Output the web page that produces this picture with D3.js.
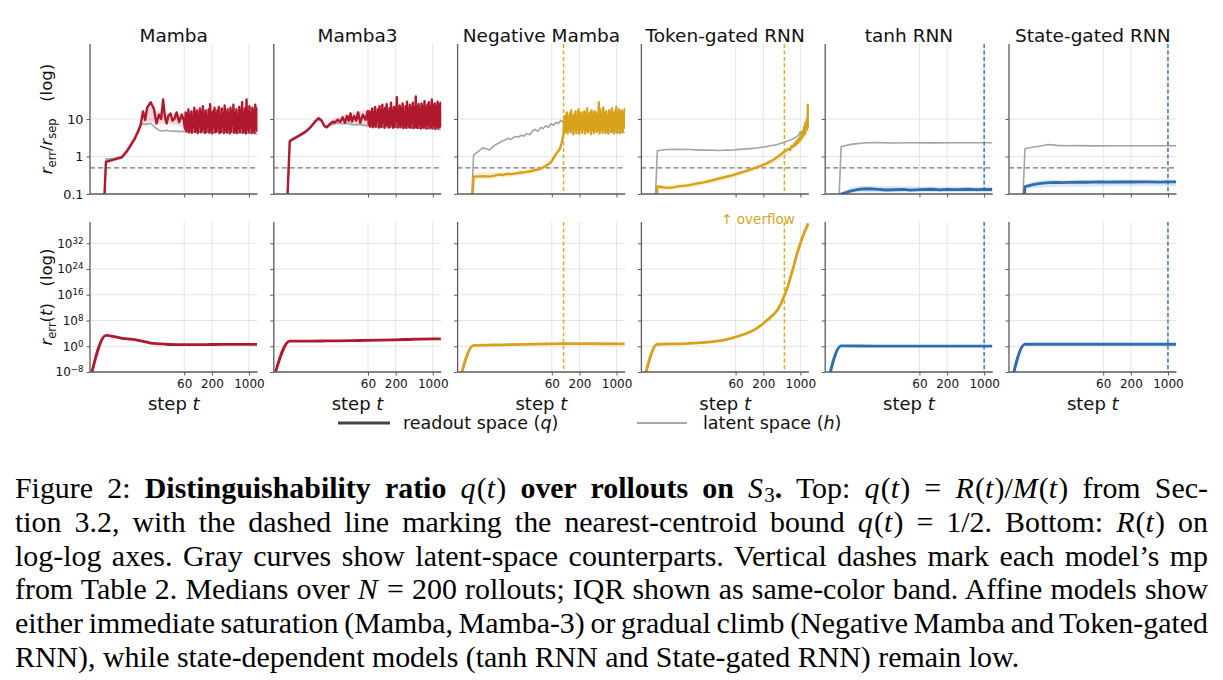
<!DOCTYPE html>
<html>
<head>
<meta charset="utf-8">
<style>
  body { margin: 0; background: #fff; }
  #wrap { position: relative; width: 1223px; height: 680px; overflow: hidden; background: #fff; }
  svg { position: absolute; left: 0; top: 0; }
  svg text { font-family: "DejaVu Sans", sans-serif; fill: #111; }
  .cap { position: absolute; left: 15px; font-family: "Liberation Serif", "Times New Roman", serif;
         font-size: 29.9px; line-height: 33.8px; white-space: nowrap; color: #000; }
  .cap .s { font-size: 70%; position: relative; top: 0.2em; line-height: 0; }
  .cap i { letter-spacing: 0.04em; }
</style>
<script src="https://cdn.jsdelivr.net/npm/d3@7"></script>
</head>
<body>
<div id="wrap"><svg width="1223" height="680"></svg></div>
<script>
// ---- data ----
const models = ["Mamba", "Mamba3", "Negative Mamba", "Token-gated RNN", "tanh RNN", "State-gated RNN"];
const modelColors = ["#b0182d", "#b0182d", "#d8a11c", "#d8a11c", "#2f6db3", "#2f6db3"];
const mpSteps = [null, null, 100, 500, 1000, 1000];   // vertical dashes

const stepTicks = [60, 200, 1000];
const ratioTicks = [0.1, 1, 10];
const errTicks = [1e-8, 1e0, 1e8, 1e16, 1e24, 1e32];
const boundQ = 0.5;

// steps used for the noisy tails
const denseSteps = [62,64,66,68,70,72,74,77,79,82, 84,87,90,93,96,99,102,105,108,112,
  115,119,123,127,131,135,139,144,148,153, 158,163,168,174,179,185,191,197,203,210,
  217,224,231,238,246,254,262,270,279,288, 297,307,317,327,337,348,359,371,383,395,
  408,421,434,448,463,478,493,509,525,542, 560,578,596,615,635,656,677,699,721,744,
  768,793,818,845,872,900,929,959,990,1022, 1055,1089,1124,1160,1197,1236,1276,1317,1360,1404, 1440];

// Mamba
const mambaEarly = [[1,1e-10],[2,0.72],[3,0.85],[4,0.95],[5,1.4],[6,2.1],[7,3.0],[8,4.5],[9,6.8],[10,16],
  [11,9.5],[12,20],[14,28],[16,19],[18,7.6],[20,13],[22,10],[24,33],[26,11],[28,7.6],[30,12],[33,14],
  [36,9],[39,10],[43,15],[48,8.3],[54,13],[59,9]];
const mambaNoise = [5.5,15,4.6,12,7,18,4.4,13,5,16, 4.3,11,6,20,4.5,14,5.2,17,4.2,12,
  8,19,4.4,15,4.8,22,5.5,13,4.2,17, 4.6,12,7,18,4.3,25,5,14,4.1,16, 6,20,4.4,13,4.7,17,5.8,21,4.2,12,
  4.5,19,6.5,14,4.2,23,5,15,4.3,18, 5.5,13,4.1,20,4.6,16,7,24,4.3,14, 4.8,18,4.2,12,5.5,21,4.4,17,6,28,
  4.3,15,4.7,19,4.1,33,5.2,16,4.4,22, 6,14,4.2,20,4.8,17,4.3,24,5.5,19, 4.5];
const mambaBand = [[2,0.65,0.8],[3,0.76,0.95],[4,0.85,1.12],[5,1.15,1.7],[6,1.7,2.7],[7,2.4,3.9],[8,3.6,5.8],
  [9,5.4,8.5],[10,7.5,14],[12,8,19],[14,8.5,22],[16,8,19],[20,7.5,16],[25,7.5,15],[30,7.5,14],[40,7,14],
  [60,6,15],[100,5,17],[300,4.5,19],[1000,4.3,21],[1420,4.2,21]];
const mambaLatent = [[1,1e-10],[2,0.85],[3,0.9],[4,1.0],[5,1.45],[6,2.2],[7,3.1],[8,4.7],[9,6.6],[10,7.6],
  [11,7.1],[12,7.3],[14,7.7],[16,6.3],[18,5.6],[20,5.0],[24,4.8],[28,5.0],[34,4.7],[40,4.8],[50,4.6],
  [60,4.7],[80,4.5],[100,4.6],[150,4.4],[200,4.5],[300,4.4],[400,4.5],[600,4.3],[800,4.4],[1000,4.2],
  [1200,4.1],[1420,4.0]];
const mambaErr = [[1,3e-11],[2,2.5e3],[3,800],[4,300],[5,200],[7,120],[10,35],[14,10],[20,5.6],[30,3.5],
  [45,3.2],[60,3.2],[100,3.2],[200,3.5],[500,4],[1000,4],[1420,4]];

// Mamba3
const mamba3Early = [[1,1e-10],[2,2.6],[3,3.6],[4,4.6],[5,6.2],[6,8.5],[7,10.5],[8,9],[9,6.5],[10,6],
  [11,7],[12,7.8],[13,8.5],[14,8],[16,9.5],[18,8.5],[20,11],[22,8],[24,12],[26,9],[28,14],[30,8.5],
  [33,12],[36,9],[39,15],[43,8],[48,13],[54,9.5],[59,16]];
const mamba3Noise = [7,16,6.2,13,8,19,6,15,7,21, 6.1,14,9,18,5.9,22,6.5,16,6,24,
  8,17,5.8,20,6.6,25,7,15,5.9,19, 6.3,27,7.5,16,5.8,21,6.2,18,9,38, 5.9,17,6.8,23,6,19,7.2,26,5.7,15,
  6.5,22,5.8,29,7,18,6.1,24,5.9,20, 8,27,5.7,19,6.4,40,6,21,5.8,25, 7,18,5.6,26,6.3,22,5.9,30,6.6,19,
  5.6,24,7,28,5.8,20,6.2,33,5.7,23, 6.8,26,5.5,21,6.4,29,5.8,24,6.1,27, 6];
const mamba3Band = [[2,2.3,2.9],[3,3.2,4.0],[4,4.0,5.2],[5,5.4,7.0],[6,7.3,9.5],[7,9,11.8],[8,8,10.5],
  [9,5.8,7.5],[10,5.4,7],[12,6.5,9],[15,7,11],[20,7,13],[30,6.8,15],[60,6.3,18],[100,6,20],[300,5.8,22],
  [1000,5.6,24],[1420,5.5,24]];
const mamba3Latent = [[1,1e-10],[2,2.5],[3,3.5],[4,4.5],[5,6],[6,8.2],[7,10],[8,9],[9,6.5],[10,6],[12,7],
  [14,7.5],[16,8],[20,7.5],[25,7.8],[30,7],[40,7.2],[60,6.5],[100,6.2],[200,6],[400,5.8],[700,5.6],
  [1000,5.4],[1420,5.2]];
const mamba3Err = [[1,1.6e-10],[2,40],[5,40],[10,45],[30,56],[100,80],[300,125],[1000,200],[1420,200]];

// Negative Mamba
const negEarly = [[1,1e-10],[2,0.29],[3,0.3],[4,0.29],[5,0.31],[6,0.33],[7,0.32],[8,0.34],[10,0.34],
  [12,0.35],[15,0.37],[20,0.39],[25,0.41],[30,0.44],[35,0.46],[40,0.5],[45,0.55],[50,0.6],[55,0.66],
  [60,0.75],[65,0.92],[70,1.1],[75,1.25],[80,1.4],[85,1.6],[90,2.0],[95,2.8],[100,4.2]];
const negNoise = [9,4.3,12,5,15,4.1,11,6,14,4.4, 17,5,12,3.9,13,6.5,16,4.2,11,5.2,
  18,4,13,5.5,15,4.3,12,7,16,4.1, 14,5,19,4.4,12,6,15,3.9,17,5.5, 13,4.2,16,6,15,4.5,12,5,28,4.1,
  18,5.5,13,4.3,20,6,14,4.2,16,5, 12,4,17,6.5,15,4.4,19,5,13,4.1, 16,5.5,21,4.3,14,6,18,4.2,15,5.2,
  17,4.5,14,5.8,20];
const negBand = [[2,0.24,0.36],[3,0.25,0.4],[4,0.24,0.39],[5,0.26,0.38],[6,0.27,0.38],[8,0.28,0.39],
  [10,0.29,0.4],[15,0.31,0.43],[20,0.33,0.46],[30,0.37,0.52],[40,0.42,0.58],[50,0.5,0.7],[60,0.63,0.9],
  [70,0.9,1.3],[80,1.2,1.7],[90,1.7,2.4],[100,3.5,5]];
const negLatent = [[1,1e-10],[2,1.08],[3,1.7],[4,1.5],[5,2.0],[6,2.3],[7,2.6],[8,2.8],[9,3.1],[10,2.8],
  [12,3.4],[14,3.3],[16,3.7],[18,3.5],[20,4.1],[23,3.8],[26,4.8],[29,5.3],[33,4.7],[37,6.0],[41,5.5],
  [46,6.6],[52,6.0],[58,7.5],[65,6.8],[72,8.2],[80,7.5],[88,9.2],[95,8.4],[100,9],[120,6],[150,5],
  [200,5.5],[300,5],[500,5],[800,4.8],[1100,4.5],[1420,4.3]];
const negErr = [[1,4e-14],[2,2],[5,2.5],[10,3.2],[30,4.5],[100,6.3],[300,6.3],[1000,5.6],[1420,5.6]];

// Token-gated RNN
const tokenQ = [[1,1e-10],[2,0.158],[3,0.146],[4,0.15],[5,0.16],[6,0.165],[8,0.172],[11,0.19],[15,0.205],
  [23,0.236],[30,0.26],[48,0.306],[70,0.36],[100,0.42],[150,0.51],[207,0.61],[280,0.75],[370,0.97],
  [450,1.2],[520,1.4],[600,1.6],[640,1.5],[680,1.9],[720,1.8],[770,2.2],[810,2.0],[850,2.6],[890,2.3],
  [930,3.0],[970,2.6],[1010,3.6],[1050,3.0],[1090,4.5],[1130,3.5],[1170,6],[1210,4],[1250,8],[1290,5],
  [1330,10],[1360,6],[1385,24],[1400,8],[1410,13],[1420,6]];
const tokenBand = [[2,0.13,0.18],[3,0.125,0.17],[5,0.135,0.185],[8,0.145,0.2],[12,0.16,0.22],[20,0.19,0.26],
  [30,0.215,0.3],[50,0.25,0.36],[100,0.35,0.48],[200,0.5,0.7],[300,0.62,0.9],[500,0.95,1.35],[700,1.4,1.9],
  [1000,2.2,3.1],[1200,3,5],[1420,4,8]];
const tokenLatent = [[1,1e-10],[2,1.42],[3,1.53],[5,1.56],[8,1.53],[11,1.5],[16,1.48],[23,1.47],[30,1.45],
  [40,1.49],[50,1.47],[70,1.55],[100,1.6],[150,1.68],[207,1.8],[280,1.93],[370,2.1],[450,2.3],[575,2.6],
  [680,2.85],[770,3.1],[850,3.4],[930,3.7],[1000,4.6],[1050,3.9],[1100,4.8],[1150,4.3],[1200,5.4],
  [1250,4.6],[1300,6.0],[1350,5.2],[1420,6.5]];
const tokenErr = [[1,6e-15],[2,4.2],[7,6.9],[20,22],[35,80],[55,500],[90,6.3e3],[132,1e5],[180,3.2e6],
  [236,1.3e8],[300,4e9],[365,1.6e11],[430,1.6e13],[490,2.5e15],[570,1.6e18],[656,4e21],[760,1.6e25],
  [873,8e28],[1000,1e32],[1170,1.3e35],[1300,6e36],[1420,1.6e38]];

// tanh RNN
const tanhQ = [[1,1e-10],[2,0.1],[3,0.12],[4,0.13],[5,0.136],[6,0.138],[8,0.136],[10,0.133],[14,0.128],
  [20,0.13],[30,0.133],[40,0.127],[60,0.131],[100,0.134],[150,0.129],[200,0.133],[300,0.131],[500,0.134],
  [700,0.13],[1000,0.133],[1420,0.132]];
const tanhBand = [[2,0.1,0.11],[3,0.108,0.15],[5,0.11,0.165],[10,0.11,0.16],[30,0.11,0.16],[100,0.112,0.158],
  [300,0.112,0.157],[1000,0.112,0.157],[1420,0.112,0.157]];
const tanhLatent = [[1,1e-10],[2,1.85],[3,2.1],[4,2.2],[6,2.32],[10,2.34],[20,2.3],[40,2.32],[100,2.31],
  [300,2.32],[1000,2.33],[1420,2.32]];
const tanhErr = [[1,1.3e-15],[2,1.26],[10,1.12],[100,1.12],[1000,1.12],[1420,1.12]];

// State-gated RNN
const stateQ = [[1,1e-10],[2,0.158],[3,0.18],[4,0.193],[5,0.197],[6,0.2],[8,0.203],[10,0.2],[14,0.205],
  [20,0.208],[30,0.206],[50,0.21],[80,0.207],[100,0.211],[200,0.209],[400,0.21],[700,0.208],[1000,0.211],
  [1420,0.21]];
const stateBand = [[2,0.14,0.175],[3,0.145,0.22],[5,0.15,0.235],[10,0.155,0.24],[30,0.158,0.24],
  [100,0.16,0.245],[300,0.16,0.245],[1000,0.16,0.245],[1420,0.16,0.245]];
const stateLatent = [[1,1e-10],[2,1.61],[3,1.79],[4,1.9],[5.5,2.09],[8,1.98],[12,1.93],[20,1.95],[40,1.92],
  [100,1.93],[300,1.94],[1000,1.93],[1420,1.93]];
const stateErr = [[1,1.6e-15],[2,4.2],[10,4.2],[100,4.2],[1000,4.2],[1420,4.2]];

// ---- tables built from the arrays ----
const zip = (steps, vals) => vals.map((v, k) => [steps[k], v]);
const ratioReadout = [
  mambaEarly.concat(zip(denseSteps, mambaNoise)),
  mamba3Early.concat(zip(denseSteps, mamba3Noise)),
  negEarly.concat(zip(denseSteps.slice(16), negNoise)),
  tokenQ, tanhQ, stateQ];
const ratioBand = [mambaBand, mamba3Band, negBand, tokenBand, tanhBand, stateBand];
const ratioLatent = [mambaLatent, mamba3Latent, negLatent, tokenLatent, tanhLatent, stateLatent];
const errReadout = [mambaErr, mamba3Err, negErr, tokenErr, tanhErr, stateErr];

// ---- layout ----
const svg = d3.select("svg");
const W = 167.5, H = 150;
const panelLeft = models.map((m, i) => 90 + i * 183.8);
const rowTop = [44, 222];

const x = d3.scaleLog().domain([1, 1450]).range([0, W]);
const yRatio = d3.scaleLog().domain([0.1, 1000]).range([H, 0]);
const yErr = d3.scaleLog().domain([1e-8, 4e38]).range([H, 0]);

const spine = "#5a5a5a";

function drawPanel(i, row) {
  const y = row ? yErr : yRatio;
  const c = modelColors[i];
  const g = svg.append("g").attr("transform", `translate(${panelLeft[i]},${rowTop[row]})`);
  const cid = `clip-${row}-${i}`;
  g.append("clipPath").attr("id", cid).append("rect").attr("width", W).attr("height", H);

  // grid
  g.append("g").selectAll("line").data(stepTicks).join("line")
    .attr("x1", d => x(d)).attr("x2", d => x(d)).attr("y1", 0).attr("y2", H)
    .attr("stroke", "#e4e4e4").attr("stroke-width", 1);
  g.append("g").selectAll("line").data((row ? errTicks : ratioTicks).slice(1)).join("line")
    .attr("x1", 0).attr("x2", W).attr("y1", d => y(d)).attr("y2", d => y(d))
    .attr("stroke", "#e4e4e4").attr("stroke-width", 1);

  const plot = g.append("g").attr("clip-path", `url(#${cid})`);
  const line = d3.line().x(d => x(d[0])).y(d => y(d[1]));

  if (row === 0) {
    plot.append("path").datum(ratioBand[i])
      .attr("d", d3.area().x(d => x(d[0])).y0(d => y(d[1])).y1(d => y(d[2])))
      .attr("fill", c).attr("opacity", 0.17);
    plot.append("line").attr("x1", 0).attr("x2", W).attr("y1", y(boundQ)).attr("y2", y(boundQ))
      .attr("stroke", "#777").attr("stroke-width", 1.2).attr("stroke-dasharray", "5,3");
    plot.append("path").datum(ratioLatent[i]).attr("d", line)
      .attr("fill", "none").attr("stroke", "#a3a3a3").attr("stroke-width", 1.6)
      .attr("stroke-linejoin", "round");
    plot.append("path").datum(ratioReadout[i]).attr("d", line)
      .attr("fill", "none").attr("stroke", c).attr("stroke-width", i > 3 ? 2.8 : 2.4)
      .attr("stroke-linejoin", "round");
  } else {
    plot.append("path").datum(errReadout[i]).attr("d", line.curve(d3.curveMonotoneX))
      .attr("fill", "none").attr("stroke", c).attr("stroke-width", 2.8)
      .attr("stroke-linejoin", "round");
  }

  if (mpSteps[i]) {
    g.append("line").attr("x1", x(mpSteps[i])).attr("x2", x(mpSteps[i])).attr("y1", 0).attr("y2", H)
      .attr("stroke", c).attr("stroke-width", 1.5).attr("stroke-dasharray", "4,2.5").attr("opacity", 0.9);
  }

  // x axis
  const xa = g.append("g").attr("transform", `translate(0,${H})`)
    .call(d3.axisBottom(x).tickValues(stepTicks).tickSize(3.5).tickPadding(3.5)
      .tickFormat(row ? d3.format("d") : () => ""));
  xa.select(".domain").remove();
  xa.selectAll("line").attr("stroke", spine);
  xa.selectAll("text").attr("font-size", 12).attr("fill", "#222");

  // y axis
  const ya = g.append("g")
    .call(d3.axisLeft(y).tickValues(row ? errTicks : ratioTicks).tickSize(3.5).tickPadding(3)
      .tickFormat(() => ""));
  ya.select(".domain").remove();
  ya.selectAll("line").attr("stroke", spine);
  if (i === 0) {
    ya.selectAll("text").attr("font-size", row ? 12 : 12.8).attr("fill", "#222").each(function(d) {
      const t = d3.select(this);
      if (row === 0) {
        t.text(d < 1 ? "0.1" : String(d));
      } else {
        const e = Math.round(Math.log10(d));
        t.append("tspan").text("10");
        t.append("tspan").attr("dy", "-0.45em").attr("font-size", "0.72em")
          .text(e < 0 ? "\u2212" + (-e) : String(e));
      }
    });
  }

  // spines
  g.append("line").attr("x1", 0).attr("x2", 0).attr("y1", 0).attr("y2", H)
    .attr("stroke", spine).attr("stroke-width", 1.3);
  g.append("line").attr("x1", 0).attr("x2", W).attr("y1", H).attr("y2", H)
    .attr("stroke", spine).attr("stroke-width", 1.3);

  if (row === 0) {
    svg.append("text").attr("x", panelLeft[i] + W / 2).attr("y", 41.5)
      .attr("text-anchor", "middle").attr("font-size", 18.5).text(models[i]);
  } else {
    const xl = svg.append("text").attr("x", panelLeft[i] + W / 2).attr("y", 410)
      .attr("text-anchor", "middle").attr("font-size", 18);
    xl.append("tspan").text("step ");
    xl.append("tspan").attr("font-style", "italic").text("t");
  }
}

models.forEach((m, i) => { drawPanel(i, 0); drawPanel(i, 1); });

// overflow marker on the Token-gated RNN panel
svg.append("text").attr("x", 758).attr("y", 224).attr("text-anchor", "middle")
  .attr("font-size", 13.5).style("fill", modelColors[3]).text("\u2191 overflow");

// y labels
function subLabel(cx, cy, sub1, rest) {
  const t = svg.append("text").attr("transform", `translate(${cx},${cy}) rotate(-90)`)
    .attr("text-anchor", "middle").attr("font-size", 16.5);
  t.append("tspan").attr("font-style", "italic").text("r");
  t.append("tspan").attr("font-size", "11.5px").attr("dy", 3.5).text(sub1);
  rest(t);
  return t;
}
subLabel(52, 119, "err", t => {
  t.append("tspan").attr("dy", -3.5).text("/");
  t.append("tspan").attr("font-style", "italic").text("r");
  t.append("tspan").attr("font-size", "11.5px").attr("dy", 3.5).text("sep");
  t.append("tspan").attr("dy", -3.5).text("\u2002\u2002(log)");
});
subLabel(52, 297, "err", t => {
  t.append("tspan").attr("dy", -3.5).text("(");
  t.append("tspan").attr("font-style", "italic").text("t");
  t.append("tspan").text(")\u2002\u2002(log)");
});

// legend
const legend = [
  { label: "readout space (", sym: "q", x1: 338, x2: 390, tx: 403, stroke: "#444", w: 3 },
  { label: "latent space (", sym: "h", x1: 637, x2: 687, tx: 703, stroke: "#a8a8a8", w: 2 }
];
legend.forEach(l => {
  svg.append("line").attr("x1", l.x1).attr("x2", l.x2).attr("y1", 423).attr("y2", 423)
    .attr("stroke", l.stroke).attr("stroke-width", l.w);
  const t = svg.append("text").attr("x", l.tx).attr("y", 429).attr("font-size", 17.5);
  t.append("tspan").text(l.label);
  t.append("tspan").attr("font-style", "italic").text(l.sym);
  t.append("tspan").text(")");
});

// caption
const capLines = [
  'Figure 2: <b>Distinguishability ratio</b> <i>q</i>(<i>t</i>) <b>over rollouts on</b> <i>S</i><span class="s">3</span><b>.</b> Top: <i>q</i>(<i>t</i>) = <i>R</i>(<i>t</i>)/<i>M</i>(<i>t</i>) from Sec-',
  'tion 3.2, with the dashed line marking the nearest-centroid bound <i>q</i>(<i>t</i>) = 1/2. Bottom: <i>R</i>(<i>t</i>) on',
  'log-log axes. Gray curves show latent-space counterparts. Vertical dashes mark each model\u2019s mp',
  'from Table 2. Medians over <i>N</i> = 200 rollouts; IQR shown as same-color band. Affine models show',
  'either immediate saturation (Mamba, Mamba-3) or gradual climb (Negative Mamba and Token-gated',
  'RNN), while state-dependent models (tanh RNN and State-gated RNN) remain low.'
];
const capWidth = 1193;
capLines.forEach((h, k) => {
  const d = d3.select("#wrap").append("div").attr("class", "cap")
    .style("top", (471 + k * 33.8) + "px").html(h);
  if (k < capLines.length - 1) {
    const w = d.node().getBoundingClientRect().width;
    const n = (d.text().match(/ /g) || []).length;
    d.style("word-spacing", ((capWidth - w) / n) + "px");
  }
});
</script>
</body>
</html>
